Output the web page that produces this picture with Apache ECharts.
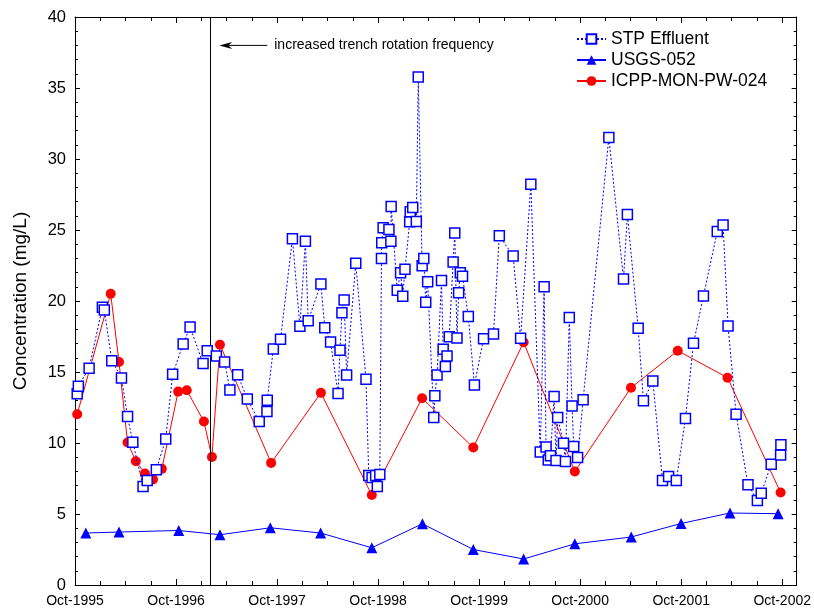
<!DOCTYPE html>
<html><head><meta charset="utf-8">
<script src="https://cdn.jsdelivr.net/npm/echarts@6/dist/echarts.min.js"></script>
<style>html,body{margin:0;padding:0;background:#fff}#c{width:814px;height:609px}</style>
</head><body><div id="c"></div>
<script>
// ---------- data ----------
const xTickLabels = ['Oct-1995','Oct-1996','Oct-1997','Oct-1998','Oct-1999','Oct-2000','Oct-2001','Oct-2002'];
const trenchChangeDate = '1997-02-01';
const annotationText = 'increased trench rotation frequency';

const stpDates = [
'1995-10-09','1995-10-13','1995-11-21','1996-01-08','1996-01-15','1996-02-11','1996-03-17','1996-04-08','1996-04-27','1996-06-03','1996-06-18','1996-07-21','1996-08-24','1996-09-18','1996-10-26','1996-11-20',
'1997-01-06','1997-01-21','1997-02-23','1997-03-25','1997-04-13','1997-05-11','1997-06-15','1997-07-28','1997-08-25','1997-08-26','1997-09-17','1997-10-13','1997-11-25','1997-12-22',
'1998-01-11','1998-01-21','1998-03-08','1998-03-22','1998-04-12','1998-05-09','1998-05-16','1998-05-23','1998-05-31','1998-06-09','1998-07-12','1998-08-18','1998-08-28','1998-09-09','1998-09-22','1998-09-28','1998-10-07','1998-10-13','1998-10-14','1998-10-19','1998-11-09','1998-11-16','1998-11-17','1998-12-09','1998-12-21','1998-12-29',
'1999-01-06','1999-01-23','1999-01-25','1999-02-03','1999-02-16','1999-02-23','1999-03-09','1999-03-15','1999-03-22','1999-03-29','1999-04-20','1999-04-24','1999-05-02','1999-05-18','1999-05-24','1999-06-01','1999-06-07','1999-06-15','1999-06-29','1999-07-05','1999-07-13','1999-07-19','1999-07-25','1999-08-02','1999-08-23','1999-09-14','1999-10-17','1999-11-22','1999-12-13',
'2000-02-01','2000-02-28','2000-04-05','2000-05-09','2000-05-23','2000-05-30','2000-06-07','2000-06-15','2000-06-28','2000-07-05','2000-07-11','2000-08-01','2000-08-08','2000-08-22','2000-09-01','2000-09-07','2000-09-21','2000-10-11',
'2001-01-12','2001-03-06','2001-03-20','2001-04-28','2001-05-17','2001-06-20','2001-07-25','2001-08-16','2001-09-13','2001-10-16','2001-11-14','2001-12-20',
'2002-02-08','2002-03-01','2002-03-19','2002-04-17','2002-05-30','2002-07-03','2002-07-17','2002-08-22','2002-09-25','2002-09-26'
];
const stpValues = [
13.46,14.0,15.27,19.56,19.37,15.8,14.58,11.86,10.06,6.94,7.36,8.11,10.29,14.84,16.97,18.17,
15.59,16.5,16.13,15.71,13.74,14.8,13.1,11.51,12.21,13.01,16.62,17.3,24.38,18.22,
24.2,18.61,21.2,18.12,17.12,13.48,16.53,19.18,20.07,14.79,22.65,14.49,7.71,7.57,7.71,6.94,7.78,23.0,24.1,25.16,25.04,24.2,26.66,20.75,21.99,20.33,
22.23,25.58,26.28,26.59,25.6,35.78,22.48,23.0,19.91,21.36,11.79,13.32,14.79,21.45,16.6,15.38,16.13,17.49,22.74,24.78,17.4,20.58,21.99,21.74,18.9,14.09,17.35,17.68,24.6,
23.17,17.37,28.23,9.36,21.0,9.71,8.81,9.10,13.27,8.77,11.79,9.99,8.70,18.83,12.61,9.75,8.98,13.04,
31.52,21.55,26.1,18.08,12.97,14.37,7.36,7.64,7.36,11.72,17.02,20.35,
24.9,25.35,18.24,12.03,7.06,5.95,6.47,8.51,9.15,9.87
];

const usgsDates = ['1995-11-09','1996-03-08','1996-10-10','1997-03-08','1997-09-06','1998-03-07','1998-09-08','1999-03-10','1999-09-10','2000-03-10','2000-09-11','2001-04-03','2001-09-30','2002-03-26','2002-09-16'];
const usgsValues = [3.66,3.73,3.84,3.54,4.03,3.66,2.62,4.31,2.5,1.83,2.9,3.38,4.33,5.07,5.02];

const icppDates = ['1995-10-09','1996-02-07','1996-03-08','1996-04-08','1996-05-08','1996-06-10','1996-07-09','1996-08-10','1996-10-08','1996-11-08','1997-01-09','1997-02-07','1997-03-08','1997-09-09','1998-03-08','1998-09-08','1999-03-09','1999-09-10','2000-03-10','2000-09-11','2001-04-02','2001-09-18','2002-03-17','2002-09-25'];
const icppValues = [12.03,20.51,15.71,10.03,8.72,7.85,7.43,8.18,13.62,13.72,11.51,9.02,16.92,8.6,13.53,6.34,13.15,9.68,17.1,7.99,13.89,16.5,14.6,6.51];

// ---------- helpers ----------
const ORIGIN = Date.UTC(1995, 9, 1);
const DAY = 86400000;
const YEAR_DAYS = 365.25;
const X_MAX_DAYS = 2609;
const toDay = s => (Date.parse(s) - ORIGIN) / DAY;
const pairs = (d, v) => d.map((s, i) => [toDay(s), v[i]]);
const FONT = "'Liberation Sans', Arial, Helvetica, sans-serif";

const xFormatter = v => {
  const k = Math.round(v / YEAR_DAYS);
  if (Math.abs(v - k * YEAR_DAYS) > 1) return '';
  return xTickLabels[k] || '';
};

const xBase = (pos, showLabel) => ({
  type: 'value', position: pos, min: 0, max: X_MAX_DAYS, interval: YEAR_DAYS,
  axisLine: { show: true, onZero: false, lineStyle: { color: '#000', width: 1 } },
  axisTick: { show: true, inside: true, length: 6, lineStyle: { color: '#000' } },
  minorTick: { show: true, splitNumber: 4, length: 4, lineStyle: { color: '#000' } },
  splitLine: { show: false },
  axisLabel: { show: showLabel, formatter: xFormatter, fontSize: 14, fontFamily: FONT, color: '#000', margin: 9, showMaxLabel: false }
});
const yBase = (pos, showLabel) => ({
  type: 'value', position: pos, min: 0, max: 40, interval: 5,
  axisLine: { show: true, onZero: false, lineStyle: { color: '#000', width: 1 } },
  axisTick: { show: true, inside: true, length: 5, lineStyle: { color: '#000' } },
  minorTick: { show: true, splitNumber: 5, length: 3, lineStyle: { color: '#000' } },
  splitLine: { show: false },
  axisLabel: { show: showLabel, fontSize: 16.5, fontFamily: FONT, color: '#000', margin: 9 }
});

const chart = echarts.init(document.getElementById('c'), null, { renderer: 'canvas' });
const yLeft = yBase('left', true);
yLeft.name = 'Concentration (mg/L)';
yLeft.nameLocation = 'middle';
yLeft.nameGap = 45;
yLeft.nameTextStyle = { fontSize: 19, fontFamily: FONT, color: '#000' };

chart.setOption({
  animation: false,
  backgroundColor: '#fff',
  grid: { left: 75, right: 15, top: 17, bottom: 24, containLabel: false },
  xAxis: [xBase('bottom', true), xBase('top', false)],
  yAxis: [yLeft, yBase('right', false)],
  legend: {
    orient: 'vertical', left: 576, top: 30, padding: 0,
    itemWidth: 29, itemHeight: 12, itemGap: 3,
    textStyle: { fontSize: 17.5, fontFamily: FONT, color: '#000' },
    data: ['STP Effluent', 'USGS-052', 'ICPP-MON-PW-024']
  },
  series: [
    {
      name: 'ICPP-MON-PW-024', type: 'line', z: 3,
      data: pairs(icppDates, icppValues),
      symbol: 'circle', symbolSize: 10,
      itemStyle: { color: '#ff0000' },
      lineStyle: { color: '#ff0000', width: 1 },
      markLine: {
        silent: true, symbol: 'none', label: { show: false },
        lineStyle: { color: '#000', width: 1, type: 'solid' },
        data: [{ xAxis: toDay(trenchChangeDate) }]
      }
    },
    {
      name: 'USGS-052', type: 'line', z: 4,
      data: pairs(usgsDates, usgsValues),
      symbol: 'triangle', symbolSize: 11,
      itemStyle: { color: '#0000ff' },
      lineStyle: { color: '#0000ff', width: 1 }
    },
    {
      name: 'STP Effluent', type: 'line', z: 5,
      data: pairs(stpDates, stpValues),
      symbol: 'rect', symbolSize: 10,
      itemStyle: { color: '#ffffff', borderColor: '#0000ff', borderWidth: 1.5 },
      lineStyle: { color: '#0000ff', width: 1, type: [2, 2] }
    }
  ]
});

// annotation anchored to the trench-change date
const p = chart.convertToPixel({ xAxisIndex: 0, yAxisIndex: 0 }, [toDay(trenchChangeDate), 38]);
const lx = p[0], ly = p[1];
chart.setOption({
  graphic: [
    { type: 'line', shape: { x1: lx + 57, y1: ly, x2: lx + 14, y2: ly }, style: { stroke: '#000', lineWidth: 1 }, silent: true },
    { type: 'polygon', shape: { points: [[lx + 9, ly], [lx + 22, ly - 3.5], [lx + 18, ly], [lx + 22, ly + 3.5]] }, style: { fill: '#000' }, silent: true },
    { type: 'text', x: lx + 64, y: ly, style: { text: annotationText, font: '14px ' + FONT, fill: '#000', verticalAlign: 'middle', align: 'left' }, silent: true }
  ]
});
</script>
</body></html>
